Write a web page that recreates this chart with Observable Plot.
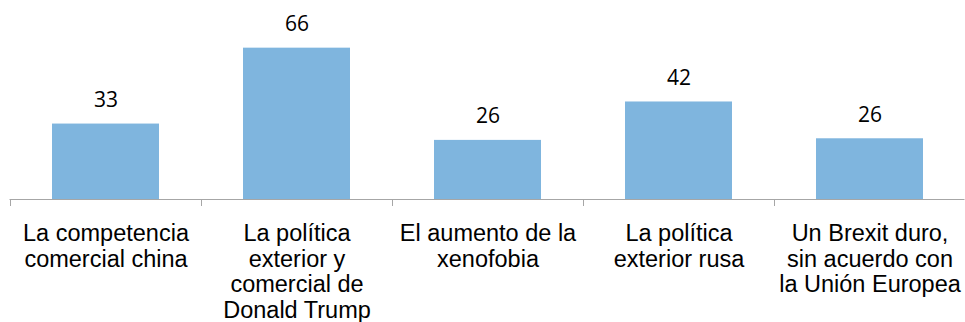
<!DOCTYPE html>
<html><head><meta charset="utf-8">
<script src="https://cdn.jsdelivr.net/npm/d3@7"></script>
<script src="https://cdn.jsdelivr.net/npm/@observablehq/plot@0.6"></script>
<style>html,body{margin:0;padding:0;background:#fff} svg{display:block}</style>
</head><body><div id="chart"></div>
<script>
const categories = [
  "La competencia\ncomercial china",
  "La política\nexterior y\ncomercial de\nDonald Trump",
  "El aumento de la\nxenofobia",
  "La política\nexterior rusa",
  "Un Brexit duro,\nsin acuerdo con\nla Unión Europea"
];
const values = [32.8, 65.8, 25.7, 42.4, 26.4];

const W = 965, H = 322, ML = 9.5, MR = 0.5, MT = 38, MB = 123;
const step = (W - ML - MR) / categories.length;
const data = categories.map((c, i) => ({c, v: values[i]}));
const axisColor = "#a6a6a6";

const plot = Plot.plot({
  width: W, height: H,
  marginLeft: ML, marginRight: MR, marginTop: MT, marginBottom: MB,
  x: {domain: categories, paddingInner: 0.442, paddingOuter: 0.221, axis: null},
  y: {domain: [0, 70], axis: null},
  style: {background: "#fff"},
  marks: [
    Plot.barY(data, {x: "c", y: "v", fill: "#7fb5de"}),
    Plot.ruleY([0], {stroke: axisColor}),
    Plot.ruleX(categories, {x: d => d, dx: -step / 2, y1: 0, y2: 0, insetBottom: -7, stroke: axisColor}),
    Plot.ruleX(categories.slice(-1), {x: d => d, dx: step / 2, y1: 0, y2: 0, insetBottom: -7, stroke: axisColor}),
    Plot.text(data, {x: "c", y: "v", text: d => d3.format(".0f")(d.v), lineAnchor: "bottom", dy: -17,
      fontSize: 21, fontFamily: "Open Sans", fill: "#000"}),
    Plot.text(data, {x: "c", y: 0, text: "c", lineAnchor: "top", dy: 23.5, fontSize: 23.5, lineHeight: 1.09,
      fontFamily: "Liberation Sans, Arial, sans-serif", fill: "#000"})
  ]
});
document.getElementById("chart").appendChild(plot);
</script>
</body></html>
